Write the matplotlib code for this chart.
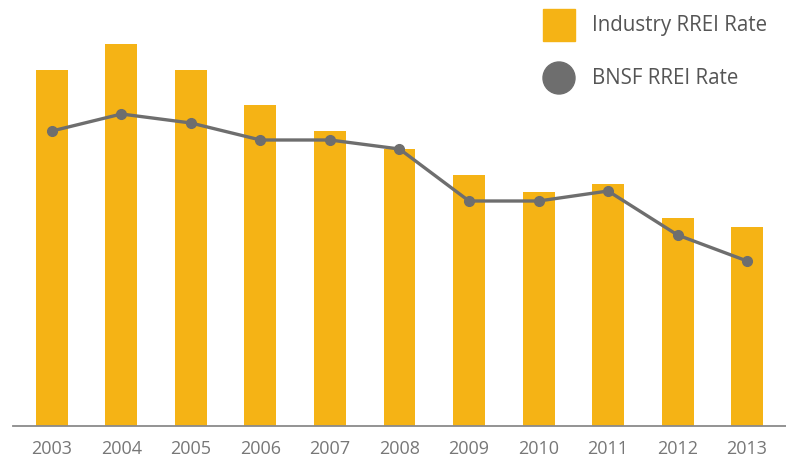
import matplotlib.pyplot as plt
from matplotlib.patches import Rectangle, Circle

years = ['2003', '2004', '2005', '2006', '2007', '2008', '2009', '2010', '2011', '2012', '2013']
industry = [3.56, 3.82, 3.56, 3.21, 2.95, 2.77, 2.51, 2.34, 2.42, 2.08, 1.99]
bnsf = [2.95, 3.12, 3.03, 2.86, 2.86, 2.77, 2.25, 2.25, 2.35, 1.91, 1.65]

bar_color = '#F5B315'
line_color = '#6E6E6E'
text_color = '#777777'
plt.rcParams['font.family'] = ['Open Sans', 'DejaVu Sans']

W, H = 786, 462
fig = plt.figure(figsize=(W / 100, H / 100), dpi=100)
ax = fig.add_axes([13 / W, 36 / H, 773 / W, 426 / H])

x = range(len(years))
ax.bar(x, industry, width=0.46, color=bar_color, zorder=1)
ax.plot(x, bnsf, color=line_color, lw=2.4, marker='o', ms=7, zorder=2)

ax.set_xlim(-0.56, 10.56)
ax.set_ylim(0, 4.26)
for s in ['top', 'right', 'left']:
    ax.spines[s].set_visible(False)
ax.spines['bottom'].set_color('#8a8a8a')
ax.spines['bottom'].set_linewidth(1.3)
ax.set_yticks([])
ax.set_xticks(list(x))
ax.set_xticklabels(years, fontsize=13, color=text_color)
ax.tick_params(axis='x', length=0, pad=10)

# legend drawn by hand
fig.add_artist(Rectangle((543 / W, 1 - 41 / H), 32 / W, 32 / H,
                         transform=fig.transFigure, color=bar_color))
fig.text(592 / W, 1 - 25 / H, 'Industry RREI Rate', fontsize=14.8,
         color='#555555', va='center')
fig.add_artist(Circle((559, H - 78), 16, transform=None, color=line_color))
fig.text(592 / W, 1 - 78 / H, 'BNSF RREI Rate', fontsize=14.8,
         color='#555555', va='center')

fig.savefig('out.png', dpi=100)
